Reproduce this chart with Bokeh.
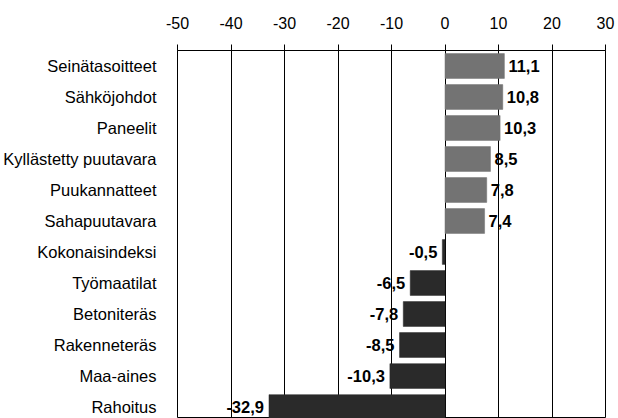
from bokeh.plotting import figure
from bokeh.models import Range1d, FixedTicker, ColumnDataSource
from bokeh.embed import file_html
from bokeh.resources import INLINE
from bokeh.core.properties import value

categories = ["Seinätasoitteet", "Sähköjohdot", "Paneelit", "Kyllästetty puutavara",
              "Puukannatteet", "Sahapuutavara", "Kokonaisindeksi", "Työmaatilat",
              "Betoniteräs", "Rakenneteräs", "Maa-aines", "Rahoitus"]
values = [11.1, 10.8, 10.3, 8.5, 7.8, 7.4, -0.5, -6.5, -7.8, -8.5, -10.3, -32.9]
value_labels = ["11,1", "10,8", "10,3", "8,5", "7,8", "7,4", "-0,5", "-6,5",
                "-7,8", "-8,5", "-10,3", "-32,9"]
x_ticks = [-50, -40, -30, -20, -10, 0, 10, 20, 30]
x_tick_labels = ["-50", "-40", "-30", "-20", "-10", "0", "10", "20", "30"]

POS_COLOR = "#737373"
NEG_COLOR = "#2a2a2a"
FONT = "Liberation Sans"

ys = [-i for i in range(len(categories))]
colors = [POS_COLOR if v >= 0 else NEG_COLOR for v in values]

src = ColumnDataSource(dict(y=ys, v=values, color=colors))
pos_idx = [i for i, v in enumerate(values) if v >= 0]
neg_idx = [i for i, v in enumerate(values) if v < 0]
src_pos = ColumnDataSource(dict(y=[ys[i] for i in pos_idx], v=[values[i] for i in pos_idx],
                                t=[value_labels[i] for i in pos_idx]))
src_neg = ColumnDataSource(dict(y=[ys[i] for i in neg_idx], v=[values[i] for i in neg_idx],
                                t=[value_labels[i] for i in neg_idx]))

p = figure(width=618, height=418, output_backend="svg", toolbar_location=None,
           x_range=Range1d(-50, 30), y_range=Range1d(-11.37, 0.5),
           x_axis_location="above",
           min_border_left=176, min_border_right=13, min_border_top=50, min_border_bottom=0)

p.background_fill_color = "white"
p.border_fill_color = "white"
p.outline_line_color = "black"
p.outline_line_width = 1
p.outline_line_alpha = 1

p.hbar(y="y", left=0, right="v", height=0.8, fill_color="color", line_color="color",
       line_width=0.5, source=src)

p.text(x="v", y="y", text="t", source=src_pos, x_offset=4, text_align="left",
       text_baseline="middle", text_font=value(FONT), text_font_style="bold",
       text_font_size="16.5px", text_color="black")
p.text(x="v", y="y", text="t", source=src_neg, x_offset=-5, text_align="right",
       text_baseline="middle", text_font=value(FONT), text_font_style="bold",
       text_font_size="16.5px", text_color="black")

# top x axis
xa = p.xaxis[0]
xa.ticker = FixedTicker(ticks=x_ticks)
xa.major_label_overrides = {t: s for t, s in zip(x_ticks, x_tick_labels)}
xa.major_tick_out = 6
xa.major_tick_in = 0
xa.minor_tick_line_color = None
xa.major_tick_line_color = "black"
xa.axis_line_color = "black"
xa.major_label_text_font = FONT
xa.major_label_text_font_size = "16px"
xa.major_label_text_color = "black"
xa.major_label_standoff = 16

p.xgrid.ticker = FixedTicker(ticks=x_ticks)
p.xgrid.grid_line_color = "black"
p.xgrid.grid_line_alpha = 1
p.xgrid.grid_line_width = 1
p.ygrid.grid_line_color = None

# left category axis
ya = p.yaxis[0]
ya.ticker = FixedTicker(ticks=ys)
ya.major_label_overrides = {y: c for y, c in zip(ys, categories)}
ya.major_tick_line_color = None
ya.minor_tick_line_color = None
ya.axis_line_color = None
ya.major_label_text_font = FONT
ya.major_label_text_font_size = "16.5px"
ya.major_label_text_color = "black"
ya.major_label_standoff = 15

open("out.html", "w").write(file_html(p, INLINE))
